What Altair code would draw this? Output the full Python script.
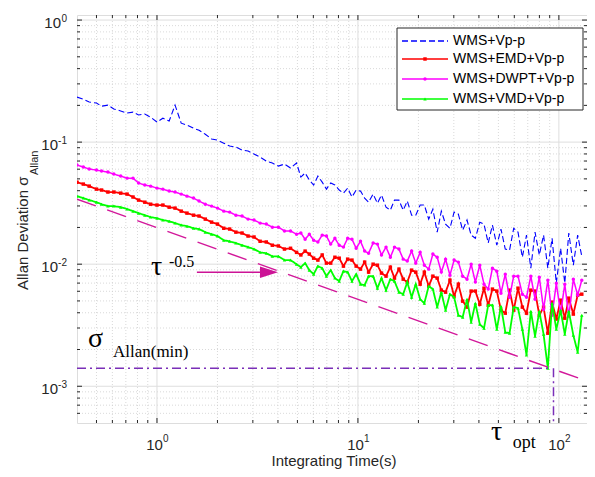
import altair as alt
import pandas as pd

# ---------------- data ----------------
tau = [0.4, 0.43, 0.46, 0.5, 0.53, 0.57, 0.61, 0.66, 0.71, 0.76, 0.81, 0.87, 0.93, 1.0,
       1.07, 1.15, 1.23, 1.32, 1.41, 1.52, 1.62, 1.74, 1.87, 2.0, 2.15, 2.3, 2.47, 2.65,
       2.84, 3.04, 3.26, 3.5, 3.75, 4.02, 4.31, 4.62, 4.95,
       5.2, 5.46, 5.73, 6.02, 6.32, 6.64, 6.97, 7.32, 7.68, 8.07, 8.47, 8.89, 9.34, 9.8,
       10.3, 10.8, 11.3, 11.9, 12.5, 13.1, 13.8, 14.5, 15.2, 16.0, 16.8, 17.6, 18.5, 19.4,
       20.4, 21.4, 22.5, 23.6, 24.8, 26.0, 27.3, 28.7, 30.1, 31.6, 33.2, 34.9, 36.6, 38.4,
       40.4, 42.4, 44.5, 46.7, 49.1, 51.5, 54.1, 56.8, 59.6, 62.6, 65.8, 69.0, 72.5, 76.1,
       79.9, 83.9, 88.1, 92.5, 97.1, 102, 107, 112, 118, 124, 130]

wms = [0.234, 0.225, 0.213, 0.209, 0.197, 0.201, 0.187, 0.180, 0.173, 0.176, 0.167, 0.170,
       0.160, 0.146, 0.157, 0.149, 0.201, 0.143, 0.138, 0.130, 0.125, 0.116, 0.106, 0.104,
       0.0981, 0.0928, 0.0911, 0.0861, 0.0845, 0.0798, 0.0754, 0.0700, 0.0674, 0.0636,
       0.0661, 0.0613, 0.0674,
       0.0517, 0.0558, 0.0489, 0.0445, 0.0527, 0.0470, 0.0412, 0.0462, 0.0445, 0.0405,
       0.0382, 0.0420, 0.0355, 0.0405, 0.0397, 0.0348, 0.0322, 0.0375, 0.0316, 0.0368,
       0.0293, 0.0277, 0.0335, 0.0335, 0.0277, 0.0329, 0.0252, 0.0252, 0.0305, 0.0305,
       0.0234, 0.0282, 0.0183, 0.0272, 0.0213, 0.0197, 0.0267, 0.0257, 0.0190, 0.0230,
       0.0173, 0.0163, 0.0221, 0.0213, 0.0149, 0.0209, 0.0143, 0.0194, 0.0133, 0.0130,
       0.0197, 0.0183, 0.0114, 0.0173, 0.00928, 0.0183, 0.0119, 0.0173, 0.00928, 0.0163,
       0.00699, 0.0135, 0.00699, 0.0180, 0.00981, 0.0173, 0.0116]

emd = [0.0470, 0.0453, 0.0436, 0.0412, 0.0405, 0.0390, 0.0390, 0.0382, 0.0375, 0.0355,
       0.0335, 0.0322, 0.0310, 0.0305, 0.0305, 0.0293, 0.0288, 0.0272, 0.0262, 0.0252,
       0.0248, 0.0234, 0.0221, 0.0213, 0.0197, 0.0194, 0.0183, 0.0180, 0.0170, 0.0167,
       0.0154, 0.0152, 0.0143, 0.0141, 0.0133, 0.0135, 0.0125,
       0.0119, 0.0128, 0.0121, 0.0112, 0.0108, 0.0119, 0.0102, 0.0102, 0.0114, 0.0112,
       0.00964, 0.0110, 0.0108, 0.00964, 0.00911, 0.0104, 0.00861, 0.0100, 0.00981, 0.00845,
       0.00798, 0.00946, 0.00769, 0.00911, 0.00754, 0.00713, 0.00894, 0.00861, 0.00686, 0.00861,
       0.00661, 0.00798, 0.00769, 0.00613, 0.00590, 0.00740, 0.00547, 0.00686, 0.00498, 0.00445,
       0.00602, 0.00602, 0.00470, 0.00636, 0.00462, 0.00625, 0.00602, 0.00420, 0.00397, 0.00613,
       0.00420, 0.00636, 0.00445, 0.00397, 0.00613, 0.00602, 0.00382, 0.00445, 0.00272, 0.00489,
       0.00355, 0.00507, 0.00361, 0.00527, 0.00390, 0.00558, 0.00568]

dwpt = [0.0649, 0.0625, 0.0602, 0.0590, 0.0579, 0.0568, 0.0547, 0.0527, 0.0507, 0.0507,
        0.0462, 0.0445, 0.0436, 0.0420, 0.0412, 0.0397, 0.0390, 0.0375, 0.0361, 0.0348,
        0.0329, 0.0310, 0.0299, 0.0288, 0.0272, 0.0267, 0.0252, 0.0248, 0.0234, 0.0230,
        0.0217, 0.0213, 0.0201, 0.0201, 0.0187, 0.0187, 0.0176,
        0.0180, 0.0160, 0.0176, 0.0157, 0.0152, 0.0173, 0.0170, 0.0146, 0.0163, 0.0143,
        0.0138, 0.0163, 0.0160, 0.0135, 0.0154, 0.0128, 0.0123, 0.0149, 0.0146, 0.0119,
        0.0138, 0.0114, 0.0138, 0.0133, 0.0110, 0.0106, 0.0128, 0.0102, 0.0125, 0.00981,
        0.00911, 0.0121, 0.0114, 0.00861, 0.0110, 0.00813, 0.0108, 0.0104, 0.00798, 0.00754,
        0.0100, 0.00713, 0.00981, 0.00686, 0.00625, 0.00928, 0.00877, 0.00579, 0.00829, 0.00537,
        0.00798, 0.00798, 0.00568, 0.00537, 0.00798, 0.00517, 0.00783, 0.00428, 0.00740, 0.00382,
        0.00699, 0.00397, 0.00686, 0.00375, 0.00754, 0.00558, 0.00740]

vmd = [0.0361, 0.0348, 0.0335, 0.0322, 0.0310, 0.0299, 0.0299, 0.0293, 0.0283, 0.0272,
       0.0262, 0.0252, 0.0243, 0.0238, 0.0230, 0.0225, 0.0217, 0.0209, 0.0205, 0.0197,
       0.0194, 0.0183, 0.0176, 0.0170, 0.0157, 0.0154, 0.0149, 0.0143, 0.0138, 0.0133,
       0.0125, 0.0123, 0.0116, 0.0116, 0.0108, 0.0108, 0.0100,
       0.00946, 0.0102, 0.00894, 0.00829, 0.00964, 0.00928, 0.00798, 0.00894, 0.00769, 0.00726,
       0.00877, 0.00861, 0.00726, 0.00829, 0.00686, 0.00674, 0.00798, 0.00798, 0.00636, 0.00769,
       0.00613, 0.00754, 0.00726, 0.00590, 0.00568, 0.00713, 0.00537, 0.00686, 0.00517, 0.00479,
       0.00661, 0.00625, 0.00445, 0.00590, 0.00420, 0.00568, 0.00537, 0.00382, 0.00368, 0.00517,
       0.00335, 0.00479, 0.00322, 0.00299, 0.00462, 0.00462, 0.00293, 0.00453, 0.00277, 0.00272,
       0.00445, 0.00436, 0.00293, 0.00180, 0.00412, 0.00257, 0.00412, 0.00267, 0.001405, 0.00479,
       0.00293, 0.00420, 0.00267, 0.00412, 0.00262, 0.00190, 0.00382]

series_names = ["WMS+Vp-p", "WMS+EMD+Vp-p", "WMS+DWPT+Vp-p", "WMS+VMD+Vp-p"]
series_colors = ["#0000ff", "#ff0000", "#ff00ff", "#00ff00"]
series_dashes = [[6, 3], [1, 0], [1, 0], [1, 0]]
series_shapes = [None, "square", "circle", "triangle-up"]
series_widths = [1.1, 1.8, 1.5, 1.8]

# reference slope line (tau^-0.5 guide) and sigma_min markers
guide_t = [0.4, 150]
guide_v = [0.0341, 0.00105]
sigma_min = 0.001405
tau_opt = 94
hline_t = [0.4, 91]
vline_v = [sigma_min, 5e-4]
arrow_t = [1.58, 3.33]
arrow_v = 0.00859
arrow_head_t = 3.61

x_major = [1, 10, 100]
x_minor = [0.5, 0.6, 0.7, 0.8, 0.9, 2, 3, 4, 5, 6, 7, 8, 9, 20, 30, 40, 50, 60, 70, 80, 90]
x_exp = ["0", "1", "2"]
y_major = [0.001, 0.01, 0.1, 1]
y_minor = [6e-4, 7e-4, 8e-4, 9e-4, 2e-3, 3e-3, 4e-3, 5e-3, 6e-3, 7e-3, 8e-3, 9e-3,
           0.02, 0.03, 0.04, 0.05, 0.06, 0.07, 0.08, 0.09, 0.2, 0.3, 0.4, 0.5, 0.6, 0.7, 0.8, 0.9]
y_exp = ["-3", "-2", "-1", "0"]

# ---------------- chart ----------------
W, H = 510, 408
SANS = "Liberation Sans"
SERIF = "Liberation Serif"
TXT = "#262626"
xs = alt.Scale(type="log", domain=[0.4, 138], nice=False)
ys = alt.Scale(type="log", domain=[5e-4, 1.1], nice=False)


def X(f="t"):
    return alt.X(f"{f}:Q", scale=xs, axis=None)


def Y(f="v"):
    return alt.Y(f"{f}:Q", scale=ys, axis=None)


one = pd.DataFrame({"k": [0]})
layers = []

# grid
layers.append(alt.Chart(pd.DataFrame({"t": x_minor})).mark_rule(
    color="#cfcfcf", strokeDash=[1, 2], strokeWidth=0.8).encode(x=X()))
layers.append(alt.Chart(pd.DataFrame({"v": y_minor})).mark_rule(
    color="#cfcfcf", strokeDash=[1, 2], strokeWidth=0.8).encode(y=Y()))
layers.append(alt.Chart(pd.DataFrame({"t": x_major})).mark_rule(
    color="#dedede", strokeWidth=1).encode(x=X()))
layers.append(alt.Chart(pd.DataFrame({"v": y_major})).mark_rule(
    color="#dedede", strokeWidth=1).encode(y=Y()))

# series
for name, vals, col, dsh, shp, w in zip(series_names, [wms, emd, dwpt, vmd], series_colors,
                                        series_dashes, series_shapes, series_widths):
    d = pd.DataFrame({"t": tau, "v": vals})
    layers.append(alt.Chart(d).mark_line(
        color=col, strokeDash=dsh, strokeWidth=w, clip=True).encode(x=X(), y=Y()))
    if shp:
        layers.append(alt.Chart(d).mark_point(
            shape=shp, filled=True, size=12, color=col, opacity=1, clip=True).encode(x=X(), y=Y()))

# guide line tau^-0.5
layers.append(alt.Chart(pd.DataFrame({"t": guide_t, "v": guide_v})).mark_line(
    color="#d2189a", strokeWidth=1.5, strokeDash=[20, 12], clip=True).encode(x=X(), y=Y()))

# sigma min lines
layers.append(alt.Chart(pd.DataFrame({"t": hline_t, "v": [sigma_min, sigma_min]})).mark_line(
    color="#7a2fb8", strokeWidth=1.5, strokeDash=[9, 4, 2, 4]).encode(x=X(), y=Y()))
layers.append(alt.Chart(pd.DataFrame({"t": [tau_opt, tau_opt], "v": vline_v})).mark_line(
    color="#7a2fb8", strokeWidth=1.5, strokeDash=[9, 4, 2, 4]).encode(x=X(), y=Y()))

# arrow
layers.append(alt.Chart(pd.DataFrame({"t": arrow_t, "v": [arrow_v, arrow_v]})).mark_line(
    color="#cc1396", strokeWidth=1.5).encode(x=X(), y=Y()))
layers.append(alt.Chart(pd.DataFrame({"t": [arrow_head_t], "v": [arrow_v]})).mark_point(
    shape="M-1,-0.65L1,0L-1,0.65Z", size=324, filled=True, color="#cc1396", opacity=1).encode(
    x=X(), y=Y()))

# annotations
ann = pd.DataFrame({
    "t": [0.934, 1.147, 0.454, 0.604, 45.9, 59.0],
    "v": [0.00813, 0.00946, 0.00209, 0.00173, 0.000361, 0.00031],
    "s": ["τ", "-0.5", "σ", "Allan(min)", "τ", "opt"],
    "fs": [28, 16, 28, 17, 28, 18],
})
for fs in sorted(set(ann["fs"])):
    layers.append(alt.Chart(ann[ann["fs"] == fs]).mark_text(
        font=SERIF, fontSize=fs, align="left", baseline="alphabetic", color="#000000").encode(
        x=X(), y=Y(), text="s:N"))

# inward ticks on all four sides
for vals, ln in [(x_major, 5), (x_minor, 3)]:
    d = pd.DataFrame({"t": vals})
    layers.append(alt.Chart(d).mark_rule(color=TXT, strokeWidth=1).encode(
        x=X(), y=alt.value(H), y2=alt.value(H - ln)))
    layers.append(alt.Chart(d).mark_rule(color=TXT, strokeWidth=1).encode(
        x=X(), y=alt.value(0), y2=alt.value(ln)))
for vals, ln in [(y_major, 5), (y_minor, 3)]:
    d = pd.DataFrame({"v": vals})
    layers.append(alt.Chart(d).mark_rule(color=TXT, strokeWidth=1).encode(
        y=Y(), x=alt.value(0), x2=alt.value(ln)))
    layers.append(alt.Chart(d).mark_rule(color=TXT, strokeWidth=1).encode(
        y=Y(), x=alt.value(W), x2=alt.value(W - ln)))

# tick labels (10 with superscript exponent)
xl = pd.DataFrame({"t": x_major, "e": x_exp})
layers.append(alt.Chart(xl).mark_text(text="10", align="right", dx=6, baseline="alphabetic",
                                      font=SANS, fontSize=15, color=TXT).encode(
    x=X(), y=alt.value(H + 27)))
layers.append(alt.Chart(xl).mark_text(align="left", dx=6, baseline="alphabetic",
                                      font=SANS, fontSize=10, color=TXT).encode(
    x=X(), y=alt.value(H + 19), text="e:N"))

yl = pd.DataFrame({"v": y_major, "e": y_exp})
layers.append(alt.Chart(yl).transform_filter(alt.datum.e == "0").mark_text(
    text="10", align="right", baseline="alphabetic", dy=8, font=SANS, fontSize=15, color=TXT).encode(
    x=alt.value(-16), y=Y()))
layers.append(alt.Chart(yl).transform_filter(alt.datum.e != "0").mark_text(
    text="10", align="right", baseline="alphabetic", dy=8, font=SANS, fontSize=15, color=TXT).encode(
    x=alt.value(-19), y=Y()))
layers.append(alt.Chart(yl).mark_text(
    align="right", baseline="alphabetic", dy=2, font=SANS, fontSize=10, color=TXT).encode(
    x=alt.value(-10), y=Y(), text="e:N"))

# axis titles
layers.append(alt.Chart(pd.DataFrame({"s": ["Integrating Time(s)"]})).mark_text(
    font=SANS, fontSize=15, align="center", baseline="alphabetic", color=TXT).encode(
    x=alt.value(257), y=alt.value(451), text="s:N"))
layers.append(alt.Chart(pd.DataFrame({"s": ["Allan Deviation σ"]})).mark_text(
    font=SANS, fontSize=15, angle=270, align="left", baseline="alphabetic", color=TXT).encode(
    x=alt.value(-49), y=alt.value(275), text="s:N"))
layers.append(alt.Chart(pd.DataFrame({"s": ["Allan"]})).mark_text(
    font=SANS, fontSize=11, angle=270, align="left", baseline="alphabetic", color=TXT).encode(
    x=alt.value(-39), y=alt.value(160), text="s:N"))

# legend box (drawn by hand, top-right inside the axes)
leg_rows = [26, 44, 64, 84]
layers.append(alt.Chart(one).mark_rect(fill="#ffffff", stroke="#262626", strokeWidth=1).encode(
    x=alt.value(320), x2=alt.value(506), y=alt.value(13), y2=alt.value(95)))
for name, col, dsh, shp, ry in zip(series_names, series_colors, series_dashes, series_shapes,
                                   leg_rows):
    layers.append(alt.Chart(one).mark_rule(color=col, strokeDash=dsh, strokeWidth=1.5).encode(
        x=alt.value(325), x2=alt.value(371), y=alt.value(ry)))
    if shp:
        layers.append(alt.Chart(one).mark_point(shape=shp, filled=True, size=12, color=col,
                                                opacity=1).encode(
            x=alt.value(348), y=alt.value(ry)))
    layers.append(alt.Chart(pd.DataFrame({"s": [name]})).mark_text(
        font=SANS, fontSize=14, align="left", baseline="middle", color="#000000").encode(
        x=alt.value(376), y=alt.value(ry), text="s:N"))

chart = alt.layer(*layers).properties(
    width=W, height=H,
    padding={"left": 69, "top": 7, "right": 0, "bottom": 46},
    autosize=alt.AutoSizeParams(type="none"),
).configure_view(stroke="#262626", strokeWidth=1).configure(background="#ffffff")

chart.save("out.html", embed_options={"renderer": "svg", "actions": False})
